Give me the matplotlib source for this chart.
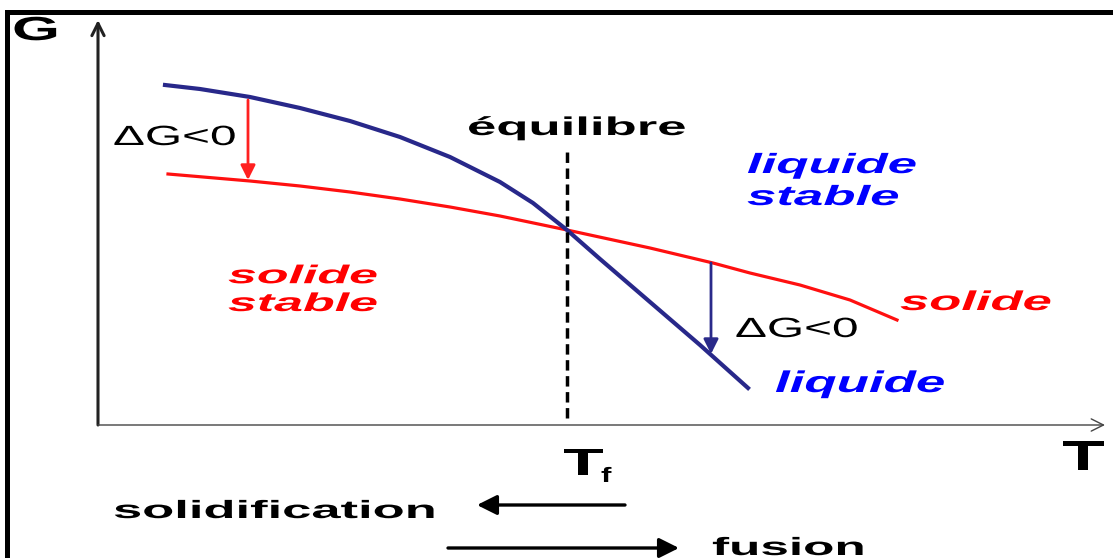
import matplotlib
matplotlib.use("Agg")
import matplotlib.pyplot as plt
from matplotlib import patheffects
from matplotlib.transforms import Affine2D

# -----------------------------
# data (x = T, y = G, arbitrary units)
# -----------------------------
liq_T = [165, 200, 250, 300, 350, 400, 450, 500, 533, 567, 600, 650, 700, 748]
liq_G = [473, 469, 461, 450, 437, 421, 401, 376, 355, 328, 299, 256, 213, 170]

sol_T = [168, 250, 300, 350, 400, 450, 500, 567, 650, 713, 750, 800, 850, 897]
sol_G = [384, 377, 372, 366, 359, 351, 342, 328, 310, 295, 285, 273, 258, 238]

T_fus = 567
origin = (98, 133)
axis_end = (1105, 538)
eq_top = 410

# delta G arrows: (T, G start, G end)
dG_low = (248, 458, 378)    # below Tf: liquid -> solid
dG_high = (711, 295, 204)   # above Tf: solid -> liquid

FONT = "Liberation Sans"


class Stretch(patheffects.AbstractPathEffect):
    # glyphs in the original are about twice as wide as tall
    def __init__(self, sx):
        super().__init__()
        self.sx = sx

    def draw_path(self, renderer, gc, tpath, affine, rgbFace=None):
        renderer.draw_path(gc, tpath, Affine2D().scale(self.sx, 1) + affine, rgbFace)


def label(ax, x, y, s, size, color="black", weight="bold", style="normal",
          sx=2.0, **kw):
    ax.text(x, y, s, fontsize=size, color=color, fontweight=weight,
            fontstyle=style, family=FONT, ha="left", va="baseline",
            path_effects=[Stretch(sx)], **kw)


fig = plt.figure(figsize=(11.13, 5.58), dpi=100)
ax = fig.add_axes([0, 0, 1, 1])
ax.set_xlim(0, 1113)
ax.set_ylim(0, 558)
ax.axis("off")

# frame (top and left edges only visible)
ax.plot([7, 7, 1113], [0, 546, 546], color="black", lw=3.6,
        solid_joinstyle="miter", solid_capstyle="butt")

# axes with open arrow heads
ax.annotate("", xy=(origin[0], axis_end[1]), xytext=origin,
            arrowprops=dict(arrowstyle="->", color="#222222", lw=2.2,
                            mutation_scale=22, shrinkA=0, shrinkB=0))
ax.annotate("", xy=(axis_end[0], origin[1]), xytext=origin,
            arrowprops=dict(arrowstyle="->", color="#444444", lw=1.0,
                            mutation_scale=22, shrinkA=0, shrinkB=0))

# G curves
ax.plot(sol_T, sol_G, color="#ff1010", lw=2.3)
ax.plot(liq_T, liq_G, color="#28288a", lw=3.0)

# equilibrium line
ax.plot([T_fus, T_fus], [origin[1] + 7, eq_top], color="black", lw=2.5,
        dashes=(3, 1.6))

# delta G arrows
ax.annotate("", xy=(dG_low[0], dG_low[2]), xytext=(dG_low[0], dG_low[1]),
            arrowprops=dict(arrowstyle="-|>", color="#ff2020", lw=2.0,
                            mutation_scale=22, shrinkA=0, shrinkB=0))
ax.annotate("", xy=(dG_high[0], dG_high[2]), xytext=(dG_high[0], dG_high[1]),
            arrowprops=dict(arrowstyle="-|>", color="#2a2a8a", lw=2.0,
                            mutation_scale=22, shrinkA=0, shrinkB=0))

# direction arrows under the T axis
ax.annotate("", xy=(477, 53), xytext=(625, 53),
            arrowprops=dict(arrowstyle="-|>", color="black", lw=2.4,
                            mutation_scale=30, shrinkA=0, shrinkB=0))
ax.annotate("", xy=(679, 10), xytext=(448, 10),
            arrowprops=dict(arrowstyle="-|>", color="black", lw=2.4,
                            mutation_scale=30, shrinkA=0, shrinkB=0))

# texts
label(ax, 12, 518, "G", 24, sx=1.85)
label(ax, 113, 413, "ΔG<0", 20, weight="normal", sx=1.72)
label(ax, 735, 221, "ΔG<0", 20, weight="normal", sx=1.72)
label(ax, 467, 423, "équilibre", 18.5, sx=2.05)
label(ax, 747, 353, "liquide\nstable", 20, color="#0000ff", style="italic",
      sx=1.9, linespacing=1.3)
label(ax, 228, 247, "solide\nstable", 18.5, color="#ff0000", style="italic",
      sx=2.02, linespacing=1.2)
label(ax, 900, 248, "solide", 19.5, color="#ff0000", style="italic", sx=1.94)
label(ax, 775, 166, "liquide", 21.5, color="#0000ff", style="italic", sx=1.77)
label(ax, 1062, 88, "T", 30, sx=1.68)
label(ax, 563, 83, "T", 27, sx=1.76)
label(ax, 601, 76, "f", 15, sx=1.5)
label(ax, 113, 40, "solidification", 18, sx=2.1)
label(ax, 712, 3, "fusion", 18, sx=2.05)

fig.savefig("out.png", dpi=100)
